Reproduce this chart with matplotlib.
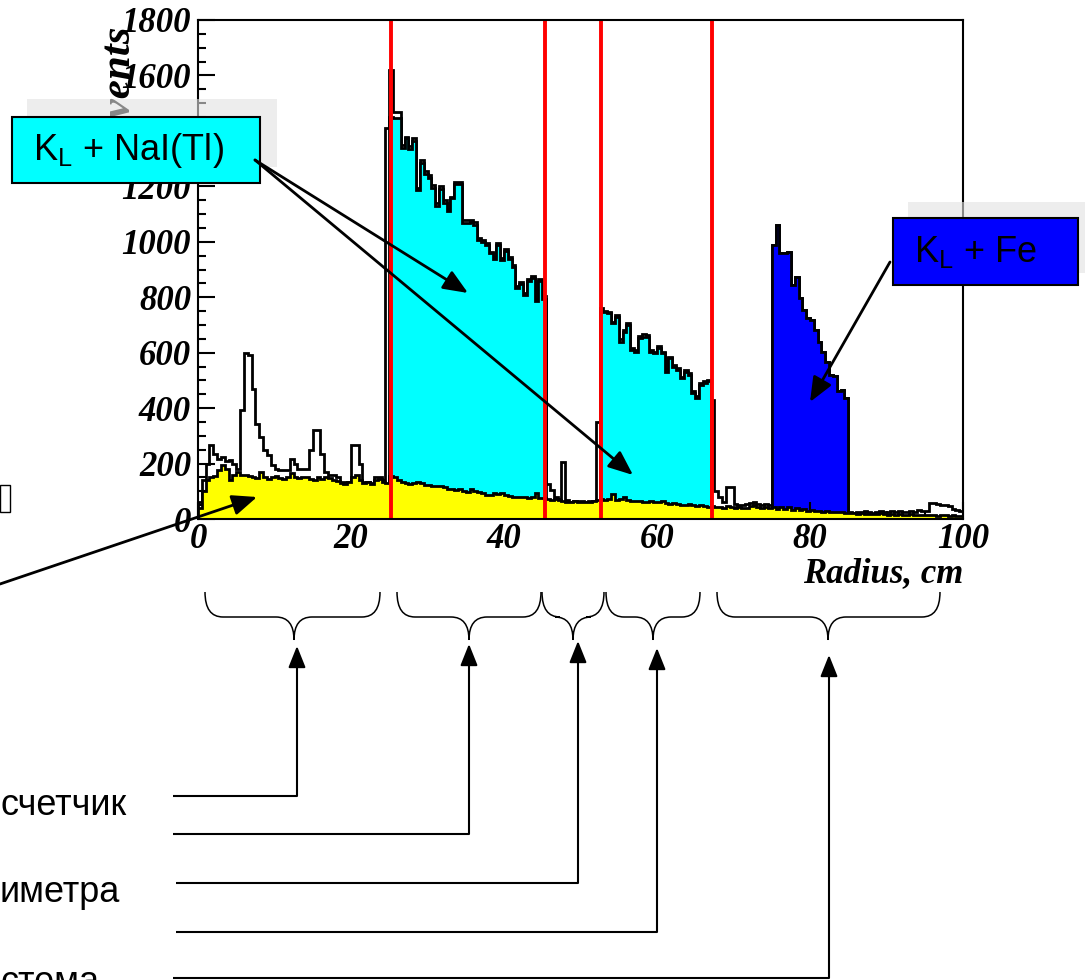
import matplotlib.pyplot as plt
import numpy as np
from matplotlib.patches import Rectangle, PathPatch
from matplotlib.path import Path

# histogram data, 0.5 cm bins from 0 to 100 cm
bin_w = 0.5
edges = np.arange(0, 100 + bin_w, bin_w)

total_counts = [
    60, 140, 200, 267, 235, 218, 224, 210, 212, 200,          # 0 - 4.5
    182, 392, 600, 590, 470, 344, 296, 248, 230, 194,         # 5 - 9.5
    182, 178, 176, 176, 218, 200, 182, 180, 180, 250,         # 10 - 14.5
    320, 320, 236, 170, 158, 158, 150, 134, 134, 134,         # 15 - 19.5
    266, 266, 200, 134, 134, 130, 152, 152, 140, 1410,        # 20 - 24.5
    1620, 1469, 1469, 1349, 1379, 1345, 1375, 1195, 1295, 1255,   # 25 - 29.5
    1240, 1205, 1140, 1200, 1150, 1120, 1163, 1215, 1215, 1078,   # 30 - 34.5
    1078, 1080, 1070, 1015, 1005, 995, 963, 945, 995, 940,        # 35 - 39.5
    975, 945, 915, 840, 855, 815, 865, 875, 795, 865,             # 40 - 44.5
    805, 125, 105, 80, 72, 207, 68, 62, 66, 64,                   # 45 - 49.5
    65, 62, 64, 66, 350, 760, 752, 748, 712, 736,                 # 50 - 54.5
    648, 682, 706, 618, 610, 660, 666, 662, 610, 604,             # 55 - 59.5
    624, 604, 540, 586, 556, 544, 514, 538, 526, 460,             # 60 - 64.5
    442, 490, 496, 502, 430, 100, 80, 60, 116, 116,               # 65 - 69.5
    55, 52, 50, 54, 58, 60, 55, 52, 54, 50,                       # 70 - 74.5
    988, 1060, 958, 958, 964, 844, 874, 796, 754, 724,            # 75 - 79.5
    718, 680, 640, 604, 568, 520, 515, 460, 466, 436,             # 80 - 84.5
    24, 22, 26, 24, 28, 25, 22, 27, 30, 26,                       # 85 - 89.5
    24, 28, 25, 30, 27, 24, 28, 26, 32, 28,                       # 90 - 94.5
    30, 58, 56, 54, 50, 50, 48, 36, 34, 30,                       # 95 - 99.5
]

yellow_counts = [
    40, 100, 140, 153, 155, 175, 195, 180, 140, 160,
    170, 160, 158, 155, 150, 148, 168, 150, 145, 150,
    155, 148, 145, 150, 165, 150, 148, 152, 150, 146,
    142, 150, 145, 152, 148, 140, 138, 130, 128, 132,
    150, 160, 140, 130, 132, 128, 140, 145, 135, 130,
    155, 150, 140, 132, 130, 128, 129, 133, 130, 124,
    122, 120, 119, 118, 115, 108, 107, 105, 108, 100,
    99, 110, 100, 98, 92, 87, 88, 93, 90, 95,
    86, 82, 80, 81, 78, 80, 77, 79, 92, 75,
    74, 72, 70, 71, 68, 64, 63, 60, 64, 62,
    63, 60, 62, 64, 68, 72, 70, 72, 90, 70,
    72, 78, 70, 66, 64, 66, 63, 62, 64, 62,
    60, 65, 58, 55, 57, 55, 52, 50, 54, 49,
    47, 50, 46, 44, 48, 42, 45, 40, 48, 42,
    40, 44, 38, 41, 46, 50, 44, 40, 45, 38,
    42, 36, 44, 35, 42, 34, 38, 32, 36, 30,
    33, 28, 30, 27, 28, 25, 27, 24, 25, 22,
    20, 21, 19, 20, 18, 19, 17, 18, 20, 17,
    16, 18, 15, 17, 16, 15, 17, 14, 15, 16,
    14, 13, 15, 12, 14, 13, 12, 13, 11, 12,
]

# K_L + NaI(Tl), two crystal layers
nai1_start = 25.0
nai1_counts = [
    1450, 1445, 1445, 1340, 1375, 1335, 1365, 1185, 1285, 1245,
    1230, 1195, 1130, 1190, 1140, 1110, 1158, 1208, 1208, 1068,
    1068, 1070, 1060, 1008, 998, 988, 958, 938, 988, 933,
    968, 938, 908, 833, 848, 808, 858, 868, 788, 858,
    795,
]
nai2_start = 52.5
nai2_counts = [
    748, 748, 742, 706, 730, 640, 676, 700, 610, 604,
    652, 658, 658, 604, 598, 616, 598, 532, 580, 550,
    538, 507, 532, 520, 454, 435, 484, 490, 496,
]

# K_L + Fe (yoke)
fe_start = 75.0
fe_counts = [
    988, 1060, 958, 958, 964, 844, 874, 796, 754, 724,
    718, 680, 640, 604, 568, 520, 515, 460, 466, 436,
]

cut_radii = [25.2, 45.4, 52.7, 67.2]

W, H = 1085, 980
fig = plt.figure(figsize=(W / 100, H / 100), dpi=100)
fig.patch.set_facecolor('white')

serif = 'Liberation Serif'
sans = 'Liberation Sans'

ax = fig.add_axes([198 / W, 1 - 519 / H, (963 - 198) / W, (519 - 20) / H])


def sub_edges(start, n):
    return start + bin_w * np.arange(n + 1)


lw_h = 2.0
ax.stairs(total_counts, edges, fill=True, facecolor='white', edgecolor='black',
          linewidth=lw_h, zorder=1.2)
ax.stairs(nai1_counts, sub_edges(nai1_start, len(nai1_counts)), fill=True,
          facecolor='#00ffff', edgecolor='black', linewidth=lw_h, zorder=1.4)
ax.stairs(nai2_counts, sub_edges(nai2_start, len(nai2_counts)), fill=True,
          facecolor='#00ffff', edgecolor='black', linewidth=lw_h, zorder=1.4)
ax.stairs(fe_counts, sub_edges(fe_start, len(fe_counts)), fill=True,
          facecolor='#0000ff', edgecolor='black', linewidth=lw_h, zorder=1.4)
ax.stairs(yellow_counts, edges, fill=True, facecolor='#ffff00', edgecolor='black',
          linewidth=lw_h, zorder=1.6)

for r in cut_radii:
    ax.axvline(r, color='#ff0000', linewidth=2.8, zorder=2.2)

ax.set_xlim(0, 100)
ax.set_ylim(0, 1800)
ax.set_xticks(np.arange(0, 101, 20))
ax.set_xticks(np.arange(0, 101, 5), minor=True)
ax.set_yticks(np.arange(0, 1801, 200))
ax.set_yticks(np.arange(0, 1801, 50), minor=True)
ax.tick_params(which='both', direction='in', top=False, right=False, width=1.5)
ax.tick_params(which='major', length=12)
ax.tick_params(which='minor', length=6)
ax.tick_params(axis='x', pad=3)
ax.tick_params(axis='y', pad=5)
for lab in ax.get_xticklabels() + ax.get_yticklabels():
    lab.set_fontfamily(serif)
    lab.set_fontstyle('italic')
    lab.set_fontweight('bold')
    lab.set_fontsize(25)
for sp in ax.spines.values():
    sp.set_linewidth(1.5)

fig.text(963 / W, 1 - 582 / H, 'Radius, cm', family=serif, style='italic',
         weight='bold', fontsize=25, ha='right', va='baseline')
fig.text(120 / W, 1 - 86 / H, 'Events', family=serif, style='italic',
         weight='bold', fontsize=31, rotation=90, ha='center', va='center')

# overlay in pixel coordinates for boxes, arrows and braces
ov = fig.add_axes([0, 0, 1, 1], zorder=5)
ov.set_xlim(0, W)
ov.set_ylim(H, 0)
ov.axis('off')
ov.patch.set_visible(False)

# shadows behind the labels
ov.add_patch(Rectangle((27, 99), 250, 68, facecolor='#e2e2e2', edgecolor='none', alpha=0.6))
ov.add_patch(Rectangle((908, 202), 190, 71, facecolor='#e2e2e2', edgecolor='none', alpha=0.6))

ov.add_patch(Rectangle((12, 117), 248, 66, facecolor='#00ffff', edgecolor='black', linewidth=1.5))
ov.text(33, 150, r'K$_\mathregular{L}$ + NaI(Tl)', family=sans, fontsize=26,
        ha='left', va='center')
ov.add_patch(Rectangle((893, 218), 185, 67, facecolor='#0000ff', edgecolor='black', linewidth=1.5))
ov.text(914, 252, r'K$_\mathregular{L}$ + Fe', family=sans, fontsize=26,
        ha='left', va='center')

big_head = dict(arrowstyle='-|>,head_length=0.6,head_width=0.25', mutation_scale=25,
                color='black', lw=2, shrinkA=0, shrinkB=0)
ov.annotate('', xy=(468, 293), xytext=(255, 160), arrowprops=big_head)
ov.annotate('', xy=(633, 475), xytext=(255, 160), arrowprops=big_head)
ov.annotate('', xy=(810, 402), xytext=(890, 262), arrowprops=big_head)
ov.annotate('', xy=(257, 497), xytext=(0, 584), arrowprops=big_head)

ov.add_patch(Rectangle((0, 485), 10, 27, facecolor='white', edgecolor='black', linewidth=1))


def brace(xa, xb, xt, y0=592, y1=617, y2=640, r=18):
    verts = [(xa, y0), (xa, y1), (xa + r, y1), (xt - r, y1), (xt, y1), (xt, y2),
             (xt, y1), (xt + r, y1), (xb - r, y1), (xb, y1), (xb, y0)]
    codes = [Path.MOVETO, Path.CURVE3, Path.CURVE3, Path.LINETO, Path.CURVE3, Path.CURVE3,
             Path.CURVE3, Path.CURVE3, Path.LINETO, Path.CURVE3, Path.CURVE3]
    ov.add_patch(PathPatch(Path(verts, codes), facecolor='none', edgecolor='black', lw=1.1))


brace(205, 380, 294)
brace(397, 541, 469)
brace(542, 604, 573)
brace(606, 700, 653)
brace(717, 940, 828)

small_head = dict(arrowstyle='-|>,head_length=0.55,head_width=0.22', mutation_scale=24,
                  color='black', lw=1.5, shrinkA=0, shrinkB=0)
# (x of vertical, y of horizontal line, left end, arrow tip)
leaders = [(297, 796, 173, 646), (469, 834, 173, 644), (578, 883, 176, 641),
           (657, 932, 176, 648), (829, 978, 173, 655)]
for xv, yh, xl, ytip in leaders:
    ov.plot([xl, xv], [yh, yh], color='black', lw=1.5, solid_capstyle='butt')
    ov.annotate('', xy=(xv, ytip), xytext=(xv, yh), arrowprops=small_head)

ov.text(0, 815, 'счетчик', family=sans, fontsize=26, ha='left', va='baseline')
ov.text(0, 902, 'иметра', family=sans, fontsize=26, ha='left', va='baseline')
ov.text(0, 992, 'стема', family=sans, fontsize=26, ha='left', va='baseline')

fig.savefig('out.png', dpi=100)
